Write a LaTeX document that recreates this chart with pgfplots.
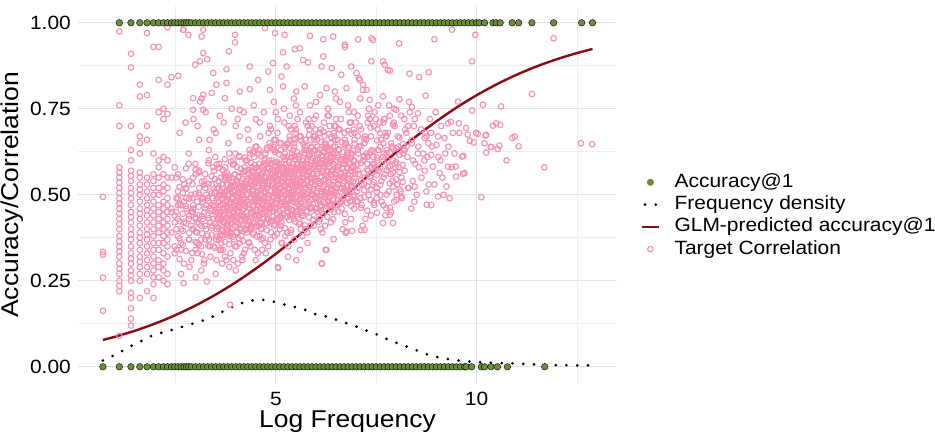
\documentclass[border=0pt]{standalone}
\usepackage{pgfplots}
\usepackage{pgfplotstable}
\pgfplotsset{compat=1.18}
\usepackage{fontspec}
\setmainfont{Liberation Sans}[FakeStretch=1.09]
\definecolor{accgreen}{HTML}{6B8E3A}
\definecolor{pinkc}{HTML}{F48FB1}
\definecolor{glmred}{HTML}{8B0A14}
\definecolor{gridmaj}{HTML}{E3E3E3}
\definecolor{gridmin}{HTML}{EEEEEE}
\newcommand\ticksize{\fontsize{19.2}{22}\selectfont}
\newcommand\titlesize{\fontsize{24.3}{28}\selectfont}
% dense core of the Target Correlation cloud: x and five correlation values per x
\pgfplotstableread{
x a b c d e
2.52 0.34 0.40 0.45 0.49 0.55
2.60 0.373 0.423 0.473 0.523 0.313
2.68 0.395 0.445 0.505 0.545 0.355
2.76 0.337 0.417 0.467 0.517 0.577
2.84 0.369 0.439 0.489 0.539 0.389
2.92 0.331 0.401 0.451 0.491 0.531
3.00 0.393 0.433 0.503 0.573 0.363
3.08 0.355 0.415 0.465 0.505 0.565
3.16 0.388 0.438 0.488 0.538 0.328
3.24 0.41 0.46 0.52 0.56 0.37
3.32 0.352 0.432 0.482 0.532 0.592
3.40 0.384 0.454 0.504 0.554 0.404
3.48 0.346 0.416 0.466 0.506 0.546
3.53 0.408 0.448 0.518 0.588 0.378
3.58 0.369 0.429 0.479 0.519 0.579
3.63 0.40 0.45 0.50 0.55 0.34
3.68 0.422 0.472 0.532 0.572 0.382
3.73 0.363 0.443 0.493 0.543 0.603
3.78 0.394 0.464 0.514 0.564 0.414
3.83 0.356 0.426 0.476 0.516 0.556
3.88 0.417 0.457 0.527 0.597 0.387
3.93 0.378 0.438 0.488 0.528 0.588
3.98 0.41 0.46 0.51 0.56 0.35
4.03 0.431 0.481 0.541 0.581 0.391
4.08 0.373 0.453 0.503 0.553 0.613
4.13 0.405 0.475 0.525 0.575 0.425
4.18 0.366 0.436 0.486 0.526 0.566
4.23 0.428 0.468 0.538 0.608 0.398
4.28 0.39 0.45 0.50 0.54 0.60
4.33 0.422 0.472 0.522 0.572 0.362
4.38 0.443 0.493 0.553 0.593 0.403
4.43 0.385 0.465 0.515 0.565 0.625
4.48 0.417 0.487 0.537 0.587 0.437
4.53 0.379 0.449 0.499 0.539 0.579
4.58 0.44 0.48 0.55 0.62 0.41
4.63 0.402 0.462 0.512 0.552 0.612
4.68 0.434 0.484 0.534 0.584 0.374
4.73 0.456 0.506 0.566 0.606 0.416
4.78 0.397 0.477 0.527 0.577 0.637
4.83 0.429 0.499 0.549 0.599 0.449
4.88 0.391 0.461 0.511 0.551 0.591
4.93 0.453 0.493 0.563 0.633 0.423
4.98 0.414 0.474 0.524 0.564 0.624
5.03 0.446 0.496 0.546 0.596 0.386
5.08 0.468 0.518 0.578 0.618 0.428
5.13 0.41 0.49 0.54 0.59 0.65
5.18 0.441 0.511 0.561 0.611 0.461
5.23 0.403 0.473 0.523 0.563 0.603
5.28 0.465 0.505 0.575 0.645 0.435
5.33 0.427 0.487 0.537 0.577 0.637
5.38 0.458 0.508 0.558 0.608 0.398
5.43 0.48 0.53 0.59 0.63 0.44
5.48 0.422 0.502 0.552 0.602 0.662
5.53 0.454 0.524 0.574 0.624 0.474
5.58 0.415 0.485 0.535 0.575 0.615
5.63 0.477 0.517 0.587 0.657 0.447
5.68 0.439 0.499 0.549 0.589 0.649
5.73 0.471 0.521 0.571 0.621 0.411
5.78 0.492 0.542 0.602 0.642 0.452
5.83 0.434 0.514 0.564 0.614 0.674
5.88 0.466 0.536 0.586 0.636 0.486
5.93 0.428 0.498 0.548 0.588 0.628
5.98 0.489 0.529 0.599 0.669 0.459
6.03 0.451 0.511 0.561 0.601 0.661
6.08 0.482 0.532 0.582 0.632 0.422
6.13 0.503 0.553 0.613 0.653 0.463
6.18 0.444 0.524 0.574 0.624 0.684
6.23 0.475 0.545 0.595 0.645 0.495
6.28 0.436 0.506 0.556 0.596 0.636
6.33 0.497 0.537 0.607 0.677 0.467
6.38 0.458 0.518 0.568 0.608 0.668
6.43 0.489 0.539 0.589 0.639 0.429
6.48 0.51 0.56 0.62 0.66 0.47
6.56 0.451 0.531 0.581 0.631 0.691
6.64 0.483 0.553 0.603 0.653 nan
6.72 0.444 0.514 0.564 0.604 0.644
6.80 0.506 0.546 0.616 0.686 nan
6.88 0.468 0.528 0.578 0.618 0.678
6.96 0.499 0.549 0.599 0.649 nan
7.04 0.521 0.571 0.631 0.671 0.481
7.12 0.462 0.542 0.592 0.642 nan
7.20 0.493 0.563 0.613 0.663 0.513
7.28 0.454 0.524 0.574 0.614 nan
7.36 0.515 0.555 0.625 0.695 0.485
7.44 0.477 0.537 0.587 0.627 nan
7.52 0.508 0.558 0.608 0.658 0.448
7.60 0.529 0.579 0.639 0.679 nan
7.68 0.47 0.55 0.60 0.65 0.71
7.76 0.501 0.571 0.621 0.671 nan
7.84 0.463 0.533 0.583 0.623 nan
7.92 0.524 0.564 0.634 0.704 nan
8.00 0.485 0.545 0.595 0.635 nan
8.08 0.516 0.566 0.616 0.666 nan
8.16 0.537 0.587 0.647 nan nan
}\coretable
% innermost, most crowded part of the cloud: x and four correlation values per x
\pgfplotstableread{
x a b c d
3.575 0.404 0.449 0.494 0.539
3.625 0.425 0.470 0.510 0.385
3.675 0.441 0.486 0.531 0.396
3.725 0.418 0.463 0.508 0.553
3.775 0.434 0.484 0.529 0.384
3.825 0.410 0.455 0.500 0.545
3.875 0.432 0.477 0.517 0.392
3.925 0.448 0.493 0.538 0.403
3.975 0.424 0.469 0.514 0.559
4.025 0.441 0.491 0.536 0.391
4.075 0.418 0.463 0.508 0.553
4.125 0.439 0.484 0.524 0.399
4.175 0.456 0.501 0.546 0.411
4.225 0.433 0.478 0.523 0.568
4.275 0.450 0.500 0.545 0.400
4.325 0.426 0.471 0.516 0.561
4.375 0.448 0.493 0.533 0.408
4.425 0.465 0.510 0.555 0.420
4.475 0.442 0.487 0.532 0.577
4.525 0.458 0.508 0.553 0.408
4.575 0.435 0.480 0.525 0.570
4.625 0.457 0.502 0.542 0.417
4.675 0.474 0.519 0.564 0.429
4.725 0.450 0.495 0.540 0.585
4.775 0.467 0.517 0.562 0.417
4.825 0.444 0.489 0.534 0.579
4.875 0.466 0.511 0.551 0.426
4.925 0.482 0.527 0.572 0.437
4.975 0.459 0.504 0.549 0.594
5.025 0.476 0.526 0.571 0.426
5.075 0.453 0.498 0.543 0.588
5.125 0.474 0.519 0.559 0.434
5.175 0.491 0.536 0.581 0.446
5.225 0.468 0.513 0.558 0.603
5.275 0.485 0.535 0.580 0.435
5.325 0.461 0.506 0.551 0.596
5.375 0.483 0.528 0.568 0.443
5.425 0.500 0.545 0.590 0.455
5.475 0.477 0.522 0.567 0.612
5.525 0.493 0.543 0.588 0.443
5.575 0.470 0.515 0.560 0.605
5.625 0.492 0.537 0.577 0.452
5.675 0.509 0.554 0.599 0.464
5.725 0.485 0.530 0.575 0.620
5.775 0.502 0.552 0.597 0.452
5.825 0.479 0.524 0.569 0.614
5.875 0.501 0.546 0.586 0.461
5.925 0.517 0.562 0.607 0.472
5.975 0.494 0.539 0.584 0.629
6.025 0.511 0.561 0.606 0.461
6.075 0.487 0.532 0.577 0.622
6.125 0.508 0.553 0.593 0.468
6.175 0.524 0.569 0.614 0.479
6.225 0.500 0.545 0.590 0.635
6.275 0.516 0.566 0.611 0.466
6.325 0.492 0.537 0.582 0.627
6.375 0.513 0.558 0.598 0.473
6.425 0.529 0.574 0.619 0.484
6.475 0.505 0.550 0.595 0.640
6.525 0.521 0.571 0.616 0.471
6.575 0.497 0.542 0.587 0.632
6.625 0.518 0.563 0.603 0.478
6.675 0.534 0.579 0.624 0.489
6.725 0.510 0.555 0.600 0.645
6.775 0.526 0.576 0.621 0.476
6.825 0.502 0.547 0.592 0.637
6.875 0.523 0.568 0.608 0.483
6.925 0.539 0.584 0.629 0.494
}\innertable
\begin{document}
\begin{tikzpicture}
\useasboundingbox (-78pt,-57pt) rectangle (857pt,384pt);
\begin{axis}[
 at={(0pt,0pt)}, anchor=south west,
 width=539pt, height=378.4pt, scale only axis,
 xmin=0.07, xmax=13.50, ymin=-0.05, ymax=1.05,
 xtick={5,10}, xticklabels={5,10},
 ytick={0,0.25,0.5,0.75,1}, yticklabels={0.00,0.25,0.50,0.75,1.00},
 minor xtick={2.5,7.5,12.5}, minor ytick={0.125,0.375,0.625,0.875},
 grid=both,
 major grid style={line width=1.2pt, draw=gridmaj},
 minor grid style={line width=0.65pt, draw=gridmin},
 major tick length=0pt, minor tick length=0pt,
 axis line style={draw=none},
 tick label style={font=\ticksize},
 xticklabel style={inner sep=0pt, anchor=north, yshift=-8pt},
 yticklabel style={inner sep=0pt, anchor=east, xshift=-7pt},
 xlabel={Log Frequency}, ylabel={Accuracy/Correlation},
 label style={font=\titlesize, inner sep=0pt},
 xlabel style={at={(axis description cs:0.5,-0.1145)}, anchor=base},
 ylabel style={at={(axis description cs:-0.1108,0.5)}, anchor=base},
 legend style={at={(axis description cs:1.0390,0.4446)}, anchor=west, draw=none, fill=none,
   inner sep=0pt, font=\ticksize, row sep=3.3pt,
   nodes={inner sep=0pt, text height=14.5pt, text depth=4.5pt},
   cells={anchor=west}},
 legend cell align=left,
 clip=false,
]
\addlegendimage{legend image code/.code={\path (0pt,0pt) (36pt,0pt); \fill[accgreen] (12pt,0pt) circle (3.3pt);}}
\addlegendentry{Accuracy@1}
\addlegendimage{legend image code/.code={\path (0pt,0pt) (36pt,0pt); \draw[black, line width=3pt, line cap=round, dash pattern=on 0pt off 10.8pt] (6.6pt,0pt) -- (18pt,0pt);}}
\addlegendentry{Frequency density}
\addlegendimage{legend image code/.code={\path (0pt,0pt) (36pt,0pt); \draw[glmred, line width=2.4pt] (3.7pt,0pt) -- (20.3pt,0pt);}}
\addlegendentry{GLM-predicted accuracy@1}
\addlegendimage{legend image code/.code={\path (0pt,0pt) (36pt,0pt); \draw[pinkc, line width=1.1pt] (12pt,0pt) circle (2.8pt);}}
\addlegendentry{Target Correlation}

\pgfplotsset{pinkpts/.style={forget plot, only marks, mark=o, mark size=2.8pt, draw=pinkc, mark options={line width=1.1pt, draw=pinkc}}}
% Target correlation: dense core
\addplot[pinkpts] table[x=x, y=a] {\coretable};
\addplot[pinkpts] table[x=x, y=b] {\coretable};
\addplot[pinkpts] table[x=x, y=c] {\coretable};
\addplot[pinkpts] table[x=x, y=d] {\coretable};
\addplot[pinkpts] table[x=x, y=e] {\coretable};
\addplot[pinkpts] table[x=x, y=a] {\innertable};
\addplot[pinkpts] table[x=x, y=b] {\innertable};
\addplot[pinkpts] table[x=x, y=c] {\innertable};
\addplot[pinkpts] table[x=x, y=d] {\innertable};
% Target correlation: the remaining points
\addplot[pinkpts] coordinates {
(0.69,0.494)(0.69,0.334)(0.69,0.326)(0.69,0.259)(0.69,0.163)
(1.10,0.09)(1.10,0.22)(1.10,0.235)(1.10,0.25)(1.10,0.27)(1.10,0.285)(1.10,0.30)(1.10,0.32)(1.10,0.335)(1.10,0.35)(1.10,0.365)(1.10,0.38)(1.10,0.40)(1.10,0.415)(1.10,0.43)(1.10,0.445)(1.10,0.46)(1.10,0.475)(1.10,0.49)(1.10,0.505)(1.10,0.52)(1.10,0.535)(1.10,0.55)(1.10,0.565)(1.10,0.58)(1.10,0.70)(1.10,0.76)(1.10,0.975)
(1.39,0.12)(1.39,0.14)(1.39,0.17)(1.39,0.20)(1.39,0.215)(1.39,0.25)(1.39,0.265)(1.39,0.28)(1.39,0.30)(1.39,0.315)(1.39,0.33)(1.39,0.35)(1.39,0.37)(1.39,0.385)(1.39,0.40)(1.39,0.42)(1.39,0.435)(1.39,0.45)(1.39,0.47)(1.39,0.49)(1.39,0.505)(1.39,0.52)(1.39,0.54)(1.39,0.555)(1.39,0.57)(1.39,0.60)(1.39,0.63)(1.39,0.70)(1.39,0.87)(1.39,0.91)
(1.61,0.20)(1.61,0.25)(1.61,0.27)(1.61,0.29)(1.61,0.305)(1.61,0.32)(1.61,0.34)(1.61,0.36)(1.61,0.375)(1.61,0.39)(1.61,0.41)(1.61,0.43)(1.61,0.445)(1.61,0.46)(1.61,0.48)(1.61,0.50)(1.61,0.515)(1.61,0.53)(1.61,0.55)(1.61,0.565)(1.61,0.62)(1.61,0.65)(1.61,0.67)(1.61,0.786)(1.61,0.82)
(1.79,0.22)(1.79,0.27)(1.79,0.29)(1.79,0.31)(1.79,0.33)(1.79,0.35)(1.79,0.37)(1.79,0.385)(1.79,0.40)(1.79,0.42)(1.79,0.44)(1.79,0.455)(1.79,0.47)(1.79,0.49)(1.79,0.51)(1.79,0.53)(1.79,0.55)(1.79,0.66)(1.79,0.70)(1.79,0.79)(1.79,0.97)
(1.95,0.20)(1.95,0.24)(1.95,0.26)(1.95,0.28)(1.95,0.30)(1.95,0.32)(1.95,0.34)(1.95,0.36)(1.95,0.38)(1.95,0.40)(1.95,0.42)(1.95,0.44)(1.95,0.46)(1.95,0.48)(1.95,0.50)(1.95,0.52)(1.95,0.54)(1.95,0.56)(1.95,0.62)(1.95,0.93)
(2.08,0.26)(2.08,0.29)(2.08,0.31)(2.08,0.34)(2.08,0.36)(2.08,0.39)(2.08,0.41)(2.08,0.43)(2.08,0.45)(2.08,0.47)(2.08,0.50)(2.08,0.52)(2.08,0.55)(2.08,0.58)(2.08,0.60)(2.08,0.74)(2.08,0.834)(2.08,0.93)
(2.20,0.25)(2.20,0.28)(2.20,0.30)(2.20,0.33)(2.20,0.36)(2.20,0.38)(2.20,0.40)(2.20,0.42)(2.20,0.44)(2.20,0.46)(2.20,0.48)(2.20,0.51)(2.20,0.53)(2.20,0.56)(2.20,0.61)(2.20,0.72)(2.20,0.75)
(2.30,0.24)(2.30,0.27)(2.30,0.32)(2.30,0.35)(2.30,0.37)(2.30,0.39)(2.30,0.41)(2.30,0.43)(2.30,0.45)(2.30,0.47)(2.30,0.49)(2.30,0.52)(2.30,0.55)(2.30,0.60)(2.30,0.735)(2.30,0.82)(2.30,0.987)
(2.40,0.45)(2.83,0.37)(2.40,0.55)(2.71,0.42)(2.56,0.49)(2.89,0.31)(2.48,0.44)(2.77,0.52)(2.64,0.40)(2.48,0.35)(2.83,0.59)(2.64,0.47)(2.40,0.39)(2.77,0.46)(2.56,0.43)(2.71,0.53)(2.48,0.33)(2.89,0.50)(2.64,0.36)(2.71,0.48)(2.56,0.38)(2.83,0.62)(2.48,0.42)(2.64,0.34)(2.77,0.49)(2.40,0.46)(2.89,0.41)(2.56,0.56)(2.71,0.30)(2.56,0.47)(2.83,0.43)(2.48,0.58)(2.64,0.27)(2.89,0.45)(2.56,0.51)
(2.94,0.46)(3.30,0.38)(3.00,0.56)(3.18,0.43)(3.09,0.50)(3.37,0.32)(2.94,0.45)(3.22,0.53)(3.14,0.41)(3.04,0.36)(3.33,0.60)(3.18,0.48)(2.94,0.40)(3.26,0.47)(3.09,0.44)(3.22,0.54)(3.00,0.34)(3.37,0.51)(3.14,0.37)(3.18,0.49)(3.04,0.39)(3.33,0.63)(3.00,0.43)(3.14,0.35)(3.26,0.50)(2.94,0.47)(3.37,0.42)(3.09,0.57)(3.22,0.31)(3.04,0.48)(3.30,0.44)(3.00,0.59)(3.14,0.28)(3.37,0.46)(3.09,0.52)(3.26,0.40)(2.94,0.55)(3.30,0.49)(3.04,0.42)(3.22,0.45)(3.33,0.37)(3.09,0.66)
(3.42,0.47)(3.81,0.39)(3.44,0.58)(3.71,0.44)(3.55,0.52)(3.87,0.33)(3.47,0.47)(3.75,0.55)(3.63,0.43)(3.51,0.37)(3.84,0.62)(3.67,0.49)(3.41,0.41)(3.78,0.48)(3.56,0.45)(3.72,0.56)(3.45,0.35)(3.89,0.52)(3.61,0.38)(3.69,0.50)(3.52,0.40)(3.82,0.65)(3.48,0.45)(3.64,0.36)(3.76,0.51)(3.43,0.49)(3.86,0.44)(3.59,0.59)(3.73,0.32)(3.53,0.49)(3.80,0.46)(3.49,0.61)(3.66,0.30)(3.88,0.48)(3.57,0.54)(3.70,0.42)(3.46,0.57)(3.79,0.50)(3.54,0.43)(3.62,0.47)(3.85,0.38)(3.50,0.68)(3.68,0.46)(3.40,0.53)(3.77,0.41)(3.58,0.50)(3.83,0.55)(3.60,0.34)(3.74,0.58)(3.44,0.43)
(3.92,0.49)(4.31,0.41)(3.94,0.60)(4.21,0.46)(4.05,0.53)(4.37,0.35)(3.97,0.48)(4.25,0.57)(4.13,0.44)(4.01,0.39)(4.34,0.63)(4.17,0.51)(3.91,0.43)(4.28,0.50)(4.06,0.47)(4.22,0.58)(3.95,0.37)(4.39,0.54)(4.11,0.40)(4.19,0.52)(4.02,0.42)(4.32,0.66)(3.98,0.47)(4.14,0.38)(4.26,0.53)(3.93,0.51)(4.36,0.46)(4.09,0.61)(4.23,0.34)(4.03,0.50)(4.30,0.48)(3.99,0.62)(4.16,0.32)(4.38,0.49)(4.07,0.55)(4.20,0.44)(3.96,0.59)(4.29,0.52)(4.04,0.45)(4.12,0.48)(4.35,0.40)(4.00,0.70)(4.18,0.47)(3.90,0.55)(4.27,0.43)(4.08,0.52)(4.33,0.56)(4.10,0.36)(4.24,0.60)(3.94,0.45)(4.15,0.50)(4.40,0.58)(4.01,0.46)(4.29,0.41)(3.97,0.53)(4.22,0.49)(4.36,0.62)(4.05,0.30)
(4.42,0.51)(4.81,0.43)(4.44,0.62)(4.71,0.48)(4.55,0.55)(4.87,0.37)(4.47,0.50)(4.75,0.59)(4.63,0.46)(4.51,0.41)(4.84,0.65)(4.67,0.53)(4.41,0.45)(4.78,0.52)(4.56,0.49)(4.72,0.60)(4.45,0.39)(4.89,0.56)(4.61,0.42)(4.69,0.54)(4.52,0.44)(4.82,0.68)(4.48,0.49)(4.64,0.40)(4.76,0.55)(4.43,0.53)(4.86,0.48)(4.59,0.63)(4.73,0.36)(4.53,0.52)(4.80,0.50)(4.49,0.64)(4.66,0.34)(4.88,0.51)(4.57,0.57)(4.70,0.46)(4.46,0.61)(4.79,0.54)(4.54,0.47)(4.62,0.50)(4.85,0.42)(4.50,0.72)(4.68,0.49)(4.40,0.57)(4.77,0.45)(4.58,0.54)(4.83,0.58)(4.60,0.38)(4.74,0.62)(4.44,0.47)(4.65,0.52)(4.90,0.60)(4.51,0.48)(4.79,0.43)(4.47,0.55)(4.72,0.51)(4.86,0.64)(4.55,0.33)(4.63,0.56)(4.41,0.50)(4.84,0.46)(4.58,0.59)
(4.92,0.53)(5.31,0.45)(4.94,0.64)(5.21,0.50)(5.05,0.57)(5.37,0.39)(4.97,0.52)(5.25,0.61)(5.13,0.48)(5.01,0.43)(5.34,0.67)(5.17,0.55)(4.91,0.47)(5.28,0.54)(5.06,0.51)(5.22,0.62)(4.95,0.41)(5.39,0.58)(5.11,0.44)(5.19,0.56)(5.02,0.46)(5.32,0.70)(4.98,0.51)(5.14,0.42)(5.26,0.57)(4.93,0.55)(5.36,0.50)(5.09,0.65)(5.23,0.38)(5.03,0.54)(5.30,0.52)(4.99,0.66)(5.16,0.36)(5.38,0.53)(5.07,0.59)(5.20,0.48)(4.96,0.63)(5.29,0.56)(5.04,0.49)(5.12,0.52)(5.35,0.44)(5.00,0.74)(5.18,0.51)(4.90,0.59)(5.27,0.47)(5.08,0.56)(5.33,0.60)(5.10,0.40)(5.24,0.64)(4.94,0.49)(5.15,0.54)(5.40,0.62)(5.01,0.50)(5.29,0.45)(4.97,0.57)(5.22,0.53)(5.36,0.66)(5.05,0.29)(5.13,0.58)(5.31,0.35)
(5.42,0.55)(5.81,0.47)(5.44,0.66)(5.71,0.52)(5.55,0.59)(5.87,0.41)(5.47,0.54)(5.75,0.63)(5.63,0.50)(5.51,0.45)(5.84,0.69)(5.67,0.57)(5.41,0.49)(5.78,0.56)(5.56,0.53)(5.72,0.64)(5.45,0.43)(5.89,0.60)(5.61,0.46)(5.69,0.58)(5.52,0.48)(5.82,0.72)(5.48,0.53)(5.64,0.44)(5.76,0.59)(5.43,0.57)(5.86,0.52)(5.59,0.67)(5.73,0.40)(5.53,0.56)(5.80,0.54)(5.49,0.68)(5.66,0.38)(5.88,0.55)(5.57,0.61)(5.70,0.50)(5.46,0.65)(5.79,0.58)(5.54,0.51)(5.62,0.54)(5.85,0.46)(5.50,0.76)(5.68,0.53)(5.40,0.61)(5.77,0.49)(5.58,0.58)(5.83,0.62)(5.60,0.42)(5.74,0.66)(5.44,0.51)(5.65,0.56)(5.90,0.64)(5.51,0.31)(5.79,0.36)(5.47,0.70)
(5.92,0.56)(6.31,0.48)(5.94,0.67)(6.21,0.53)(6.05,0.60)(6.37,0.42)(5.97,0.55)(6.25,0.64)(6.13,0.51)(6.01,0.46)(6.34,0.70)(6.17,0.58)(5.91,0.50)(6.28,0.57)(6.06,0.54)(6.22,0.65)(5.95,0.44)(6.39,0.61)(6.11,0.47)(6.19,0.59)(6.02,0.49)(6.32,0.73)(5.98,0.54)(6.14,0.45)(6.26,0.60)(5.93,0.58)(6.36,0.53)(6.09,0.68)(6.23,0.41)(6.03,0.57)(6.30,0.55)(5.99,0.69)(6.16,0.39)(6.38,0.56)(6.07,0.62)(6.20,0.51)(5.96,0.66)(6.29,0.59)(6.04,0.52)(6.12,0.55)(6.35,0.47)(6.00,0.77)(6.18,0.54)(5.90,0.62)(6.27,0.50)(6.08,0.59)(6.33,0.63)(6.10,0.43)(6.24,0.34)(6.15,0.30)
(6.42,0.57)(6.81,0.49)(6.44,0.68)(6.71,0.54)(6.55,0.61)(6.87,0.43)(6.47,0.56)(6.75,0.65)(6.63,0.52)(6.51,0.47)(6.84,0.71)(6.67,0.59)(6.41,0.51)(6.78,0.58)(6.56,0.55)(6.72,0.66)(6.45,0.45)(6.89,0.62)(6.61,0.48)(6.69,0.60)(6.52,0.50)(6.82,0.74)(6.48,0.55)(6.64,0.46)(6.76,0.61)(6.43,0.59)(6.86,0.54)(6.59,0.69)(6.73,0.42)(6.53,0.58)(6.80,0.56)(6.49,0.70)(6.66,0.40)(6.88,0.57)(6.57,0.63)(6.70,0.52)(6.46,0.67)(6.79,0.60)(6.54,0.53)(6.62,0.56)(6.85,0.48)(6.50,0.78)(6.68,0.55)(6.40,0.63)(6.77,0.51)
(6.92,0.58)(7.31,0.50)(6.94,0.69)(7.21,0.55)(7.05,0.62)(7.37,0.44)(6.97,0.57)(7.25,0.66)(7.13,0.53)(7.01,0.48)(7.34,0.72)(7.17,0.60)(6.91,0.52)(7.28,0.59)(7.06,0.56)(7.22,0.67)(6.95,0.46)(7.39,0.63)(7.11,0.49)(7.19,0.61)(7.02,0.51)(7.32,0.75)(6.98,0.56)(7.14,0.47)(7.26,0.62)(6.93,0.60)(7.36,0.55)(7.09,0.70)(7.23,0.43)(7.03,0.59)(7.30,0.57)(6.99,0.71)(7.16,0.41)(7.38,0.58)(7.07,0.64)(7.20,0.53)(6.96,0.68)(7.29,0.61)
(7.42,0.59)(7.81,0.51)(7.44,0.70)(7.71,0.56)(7.55,0.63)(7.87,0.45)(7.47,0.58)(7.75,0.67)(7.63,0.54)(7.51,0.49)(7.84,0.73)(7.67,0.61)(7.41,0.53)(7.78,0.60)(7.56,0.57)(7.72,0.68)(7.45,0.47)(7.89,0.64)(7.61,0.50)(7.69,0.62)(7.52,0.52)(7.82,0.76)(7.48,0.57)(7.64,0.48)(7.76,0.63)(7.43,0.61)(7.86,0.56)(7.59,0.71)(7.73,0.44)(7.53,0.60)(7.80,0.58)(7.49,0.72)
(7.92,0.60)(8.31,0.52)(7.94,0.71)(8.21,0.57)(8.05,0.64)(8.37,0.46)(7.97,0.59)(8.25,0.68)(8.13,0.55)(8.01,0.50)(8.34,0.74)(8.17,0.62)(7.91,0.54)(8.28,0.61)(8.06,0.58)(8.22,0.69)(7.95,0.48)(8.39,0.65)(8.11,0.51)(8.19,0.63)(8.02,0.53)(8.32,0.77)(7.98,0.58)(8.14,0.49)(8.26,0.64)
(8.42,0.60)(8.81,0.53)(8.44,0.70)(8.71,0.57)(8.55,0.64)(8.87,0.47)(8.47,0.59)(8.75,0.67)(8.63,0.55)(8.51,0.50)(8.84,0.72)(8.67,0.62)(8.41,0.54)(8.78,0.61)(8.56,0.58)(8.72,0.68)(8.45,0.48)(8.89,0.64)
(4.52,0.64)(4.61,0.67)(4.77,0.63)(4.88,0.69)(4.96,0.66)(5.04,0.68)(5.12,0.63)(5.21,0.71)(5.29,0.65)(5.37,0.69)(5.46,0.64)(5.54,0.72)(5.62,0.67)(5.71,0.63)(5.79,0.70)(5.87,0.66)(5.96,0.72)(6.04,0.64)(6.12,0.69)(6.21,0.67)(6.29,0.73)(6.37,0.65)(6.46,0.70)(6.54,0.66)(6.62,0.72)(6.71,0.68)(6.79,0.64)(6.87,0.71)(6.96,0.66)(7.04,0.73)(7.12,0.69)(7.21,0.65)(7.29,0.71)(7.37,0.67)(7.46,0.74)(7.54,0.69)(7.62,0.66)(7.71,0.72)(7.79,0.68)(7.87,0.65)(7.96,0.70)(8.04,0.67)(8.12,0.73)(8.21,0.63)(8.29,0.70)(8.38,0.66)(8.46,0.72)(8.54,0.62)(8.62,0.69)(8.70,0.60)(8.80,0.65)
(3.05,0.33)(3.21,0.30)(3.36,0.35)(3.52,0.31)(3.68,0.34)(3.84,0.29)(4.02,0.35)(4.17,0.31)(4.33,0.36)(4.48,0.34)(4.64,0.37)(4.81,0.35)(4.97,0.38)(5.14,0.36)(5.29,0.39)(5.46,0.37)(5.62,0.40)(5.79,0.39)(5.95,0.41)(6.12,0.40)
(2.70,0.98)(2.82,0.965)(3.19,0.98)(4.73,0.985)(4.98,0.97)(5.22,0.965)(5.85,0.962)(6.18,0.952)(6.43,0.96)(6.72,0.93)(7.05,0.952)(7.38,0.955)(3.98,0.965)(3.98,0.943)(3.19,0.912)(3.83,0.917)(5.18,0.914)(5.47,0.923)(5.60,0.926)(6.18,0.902)(2.99,0.878)(3.11,0.888)(3.29,0.894)(3.77,0.865)(4.35,0.873)(4.81,0.858)(4.93,0.883)(5.27,0.873)(5.68,0.892)(5.80,0.885)(6.14,0.873)(6.39,0.868)(6.63,0.849)(6.88,0.873)(7.01,0.854)(7.09,0.834)(7.38,0.888)(7.67,0.888)(7.79,0.863)(2.40,0.842)(2.57,0.846)(3.44,0.854)(3.52,0.82)(3.77,0.825)(4.10,0.80)(4.35,0.807)(4.56,0.834)(4.85,0.805)(5.14,0.844)(5.18,0.815)(5.51,0.80)(5.72,0.815)(6.26,0.81)(6.47,0.80)(6.76,0.81)(7.17,0.82)(7.26,0.805)(7.34,0.776)(7.67,0.786)(2.94,0.781)(3.11,0.771)(3.19,0.791)(3.40,0.796)(3.73,0.781)(4.10,0.747)(2.94,0.747)(3.19,0.747)(3.15,0.96)(2.69,0.98)
(7.42,0.95)(8.07,0.94)(7.71,0.878)(7.84,0.861)(8.33,0.852)(8.57,0.842)(8.81,0.856)(6.72,0.936)(7.07,0.839)(7.17,0.805)(8.08,0.778)(8.73,0.788)(8.39,0.755)(8.54,0.737)(8.0,0.747)
(2.95,0.72)(3.05,0.70)(3.25,0.74)(3.45,0.69)(3.6,0.73)(3.7,0.71)(3.9,0.75)(4.05,0.72)(4.2,0.74)(4.3,0.69)(4.45,0.76)(4.6,0.71)(4.7,0.74)(4.95,0.77)(5.05,0.72)(5.2,0.75)(5.35,0.73)(5.45,0.78)(5.6,0.74)(5.75,0.71)(5.85,0.76)(6.0,0.73)(6.1,0.79)(6.3,0.75)(6.5,0.72)(6.6,0.77)(6.95,0.74)(7.1,0.78)(7.3,0.73)(7.55,0.76)(7.7,0.72)(7.95,0.75)(8.2,0.72)(2.6,0.68)(2.75,0.71)(3.35,0.66)(3.15,0.78)(4.85,0.70)(5.5,0.69)(4.1,0.67)(5.9,0.70)(6.2,0.71)(6.8,0.76)
(2.70,0.243)(3.28,0.248)(3.86,0.18)(5.06,0.287)(6.14,0.30)(6.26,0.34)(6.76,0.393)(6.9,0.395)(7.13,0.397)(3.77,0.31)(3.94,0.31)(4.2,0.33)(7.67,0.418)(7.92,0.418)(7.84,0.442)(7.21,0.398)(6.74,0.389)(6.44,0.371)(7.75,0.461)(8.13,0.495)(8.29,0.52)(8.46,0.524)(8.75,0.51)(4.5,0.31)(4.75,0.33)(5.3,0.32)(5.6,0.34)(4.0,0.28)(3.5,0.27)(3.0,0.26)(2.85,0.29)
(8.95,0.952)(9.39,0.98)(9.97,0.965)(9.89,0.888)(9.54,0.771)(9.89,0.745)(10.16,0.762)(10.61,0.757)(9.29,0.708)(9.36,0.712)(9.56,0.708)(9.74,0.694)(9.78,0.675)(9.99,0.68)(10.24,0.674)(10.41,0.701)(10.49,0.708)(10.59,0.703)(10.2,0.65)(10.24,0.623)(10.37,0.639)(10.57,0.643)(10.89,0.665)(10.95,0.669)(11.05,0.641)(10.75,0.60)(10.12,0.493)(9.25,0.524)(9.33,0.49)(9.49,0.553)(9.66,0.561)(9.64,0.611)(9.48,0.582)(9.29,0.582)(9.08,0.563)(9.04,0.495)(8.76,0.471)(8.91,0.582)(8.87,0.616)(9.0,0.645)(9.41,0.68)(9.57,0.68)(9.2,0.665)(9.04,0.67)(8.87,0.68)(8.71,0.665)(11.92,0.955)(11.38,0.793)(9.93,0.652)(9.83,0.657)(9.67,0.613)(11.69,0.58)(12.6,0.65)(12.88,0.647)(9.7,0.563)(10.03,0.677)(10.22,0.672)(10.35,0.639)(10.53,0.633)(9.1,0.6)(9.15,0.55)(9.22,0.62)(9.3,0.64)(9.12,0.7)(9.45,0.62)(9.38,0.58)(9.18,0.5)(8.95,0.53)(8.98,0.74)(9.05,0.61)
};

% Accuracy@1
\addplot[forget plot, only marks, mark=*, mark size=3.3pt, draw=none, fill=accgreen, mark options={draw=none, fill=accgreen}] coordinates {
(1.10,1)(1.39,1)(1.61,1)(1.79,1)(1.95,1)(2.08,1)(2.20,1)(2.30,1)(2.40,1)(2.48,1)(2.56,1)(2.64,1)(2.71,1)(2.77,1)(2.83,1)
(2.9,1)(3.0,1)(3.1,1)(3.2,1)(3.3,1)(3.4,1)(3.5,1)(3.6,1)(3.7,1)(3.8,1)(3.9,1)(4.0,1)(4.1,1)(4.2,1)(4.3,1)(4.4,1)(4.5,1)(4.6,1)(4.7,1)(4.8,1)(4.9,1)(5.0,1)(5.1,1)(5.2,1)(5.3,1)(5.4,1)(5.5,1)(5.6,1)(5.7,1)(5.8,1)(5.9,1)(6.0,1)(6.1,1)(6.2,1)(6.3,1)(6.4,1)(6.5,1)(6.6,1)(6.7,1)(6.8,1)(6.9,1)(7.0,1)(7.1,1)(7.2,1)(7.3,1)(7.4,1)(7.5,1)(7.6,1)(7.7,1)(7.8,1)(7.9,1)(8.0,1)(8.1,1)(8.2,1)(8.3,1)(8.4,1)(8.5,1)(8.6,1)(8.7,1)(8.8,1)(8.9,1)(9.0,1)(9.1,1)(9.2,1)(9.3,1)(9.4,1)(9.5,1)(9.6,1)(9.7,1)(9.8,1)(9.9,1)(10.0,1)(10.07,1)
(10.2,1)(10.41,1)(10.49,1)(10.59,1)(10.89,1)(11.05,1)(11.38,1)(11.92,1)(12.62,1)(12.89,1)
(0.69,0)(1.10,0)(1.39,0)(1.61,0)(1.79,0)(1.95,0)(2.08,0)(2.20,0)(2.30,0)(2.40,0)(2.48,0)(2.56,0)(2.64,0)(2.71,0)(2.77,0)(2.83,0)
(2.9,0)(3.0,0)(3.1,0)(3.2,0)(3.3,0)(3.4,0)(3.5,0)(3.6,0)(3.7,0)(3.8,0)(3.9,0)(4.0,0)(4.1,0)(4.2,0)(4.3,0)(4.4,0)(4.5,0)(4.6,0)(4.7,0)(4.8,0)(4.9,0)(5.0,0)(5.1,0)(5.2,0)(5.3,0)(5.4,0)(5.5,0)(5.6,0)(5.7,0)(5.8,0)(5.9,0)(6.0,0)(6.1,0)(6.2,0)(6.3,0)(6.4,0)(6.5,0)(6.6,0)(6.7,0)(6.8,0)(6.9,0)(7.0,0)(7.1,0)(7.2,0)(7.3,0)(7.4,0)(7.5,0)(7.6,0)(7.7,0)(7.8,0)(7.9,0)(8.0,0)(8.1,0)(8.2,0)(8.3,0)(8.4,0)(8.5,0)(8.6,0)(8.7,0)(8.8,0)(8.9,0)(9.0,0)(9.1,0)(9.2,0)(9.3,0)(9.4,0)(9.5,0)(9.6,0)(9.7,0)(9.74,0)
(9.88,0)(10.12,0)(10.2,0)(10.36,0)(10.52,0)(10.77,0)(11.7,0)
};

% Frequency density
\addplot[forget plot, black, line width=3pt, line cap=round, dash pattern=on 0pt off 10.8pt, smooth, tension=0.4] coordinates {
(0.69,0.018)(0.94,0.032)(1.19,0.047)(1.43,0.063)(1.70,0.078)(1.95,0.092)(2.22,0.101)(2.49,0.110)(3.03,0.129)(3.34,0.141)(3.84,0.170)(4.10,0.183)(4.35,0.192)(4.64,0.195)(4.92,0.190)(5.18,0.182)(5.46,0.174)(5.72,0.166)(6.01,0.152)(6.26,0.146)(6.55,0.135)(6.80,0.125)(7.05,0.115)(7.34,0.101)(7.59,0.091)(7.84,0.077)(8.35,0.055)(8.88,0.032)(9.45,0.020)(9.98,0.014)(10.52,0.011)(11.07,0.009)(11.90,0.005)(12.64,0.004)(12.89,0.004)
};

% GLM-predicted accuracy@1
\addplot[forget plot, glmred, line width=2.4pt, smooth] coordinates {
(0.69,0.0781)(1.0,0.0876)(1.5,0.1053)(2.0,0.1261)(2.5,0.1503)(3.0,0.1782)(3.5,0.2099)(4.0,0.2456)(4.5,0.2853)(5.0,0.3285)(5.5,0.3748)(6.0,0.4236)(6.5,0.4739)(7.0,0.5247)(7.5,0.5751)(8.0,0.6239)(8.5,0.6703)(9.0,0.7136)(9.5,0.7534)(10.0,0.7892)(10.5,0.8211)(11.0,0.8490)(11.5,0.8733)(12.0,0.8941)(12.5,0.9119)(12.89,0.9239)
};
\end{axis}
\end{tikzpicture}
\end{document}
